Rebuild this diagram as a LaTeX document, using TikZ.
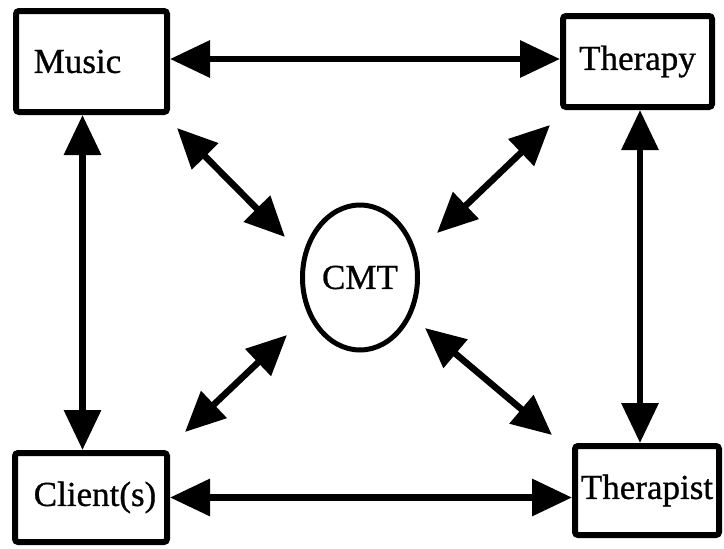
\documentclass[tikz,border=0pt]{standalone}
\usepackage{fontspec}
\setmainfont{Liberation Serif}
\newfontface\lblfont{Liberation Serif}[FakeBold=0.8]
\usetikzlibrary{arrows.meta,shapes.geometric}
\begin{document}
\begin{tikzpicture}[x=1pt,y=-1pt,
  box/.style={draw,line width=6pt,rounded corners=3pt,inner sep=0pt,
    font=\lblfont\fontsize{35}{40}\selectfont},
  hub/.style={draw,ellipse,line width=5pt,inner sep=0pt,
    font=\lblfont\fontsize{35}{40}\selectfont},
  link/.style={line width=6.5pt,
    {Triangle[length=40pt,width=36pt]}-{Triangle[length=40pt,width=36pt]}}]
\useasboundingbox (0,0) rectangle (724,549);

% the four corner boxes
\node[box,minimum width=151pt,minimum height=101pt] (music) at (91.5,61.5) {Music\hspace{28pt}\null};
\node[box,minimum width=149pt,minimum height=91pt] (therapy) at (637.5,61.5) {\raisebox{5pt}{Therapy}};
\node[box,minimum width=152pt,minimum height=89pt] (client) at (91,497.5) {\null\hspace{8pt}Client(s)};
\node[box,minimum width=144pt,minimum height=89pt] (therapist) at (647,490.5) {Therapist};

% the centre
\node[hub,minimum width=115pt,minimum height=145pt] (cmt) at (360,277.5) {CMT};

% links around the frame
\draw[link] ([yshift=2.5pt]music.east) -- ([yshift=2.5pt]therapy.west);
\draw[link] (client.east) -- (client.east -| therapist.west);
\coordinate (lv) at ([xshift=-9pt]music.south);
\draw[link] (lv) -- (lv |- client.north);
\coordinate (rv) at ([xshift=2.5pt]therapy.south);
\draw[link] (rv) -- (rv |- therapist.north);

% diagonal links towards the centre
\coordinate (tl1) at (177,128);
\coordinate (tl2) at (285,237);
\coordinate (tr1) at (550,125);
\coordinate (tr2) at (437,233);
\coordinate (bl1) at (287,335);
\coordinate (bl2) at (185,432);
\coordinate (br1) at (425,328);
\coordinate (br2) at (552,435);
\draw[link] (tl1) -- (tl2);
\draw[link] (tr1) -- (tr2);
\draw[link] (bl1) -- (bl2);
\draw[link] (br1) -- (br2);
\end{tikzpicture}
\end{document}
